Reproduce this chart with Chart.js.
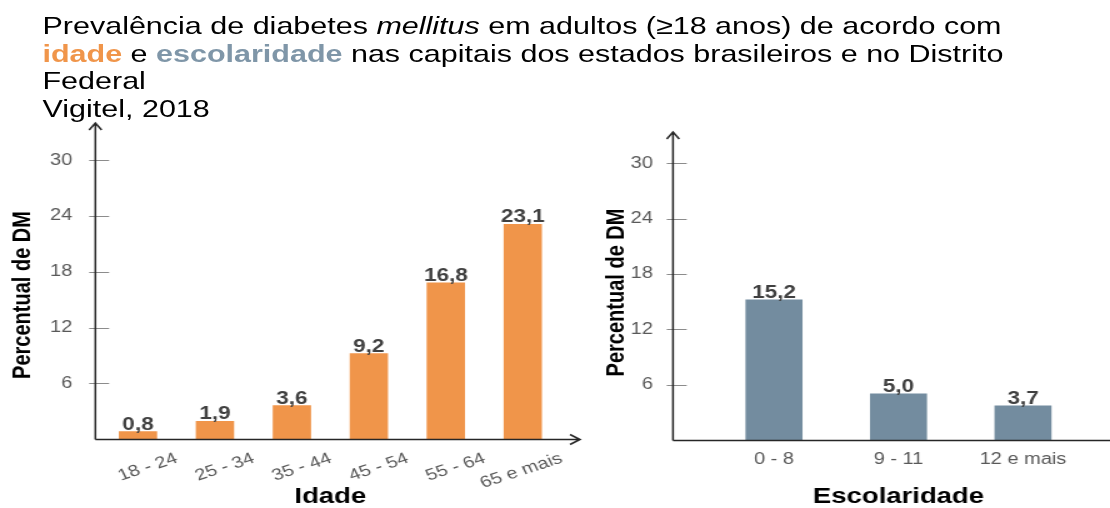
<!DOCTYPE html>
<html lang="pt-BR">
<head>
<meta charset="utf-8">
<title>Prevalência de diabetes mellitus - Vigitel 2018</title>
<script src="https://cdn.jsdelivr.net/npm/chart.js@4/dist/chart.umd.min.js"></script>
<style>
    html, body { margin: 0; padding: 0; background: #fff; overflow: hidden; }
    /* the reference is stretched horizontally, so the whole stage is drawn narrow and widened */
    #stage {
        position: absolute; left: 0; top: 0;
        width: 888px; height: 508px;
        transform: scaleX(1.25); transform-origin: 0 0;
    }
    #title {
        position: absolute; left: 34px; top: 12px;
        font-family: "Liberation Sans", Arial, sans-serif;
        font-size: 24.4px; line-height: 27.7px; color: #000;
        white-space: nowrap;
    }
    #title .age { color: #f0954a; font-weight: bold; }
    #title .edu { color: #7f96a8; font-weight: bold; }
    canvas { position: absolute; top: 110px; }
    #ageChart { left: 0; }
    #eduChart { left: 470px; }
</style>
</head>
<body>
<div id="stage">
    <div id="title">
        Prevalência de diabetes <i>mellitus</i> em adultos (≥18 anos) de acordo com<br>
        <span class="age">idade</span> e <span class="edu">escolaridade</span> nas capitais dos estados brasileiros e no Distrito<br>
        Federal<br>
        Vigitel, 2018
    </div>
    <canvas id="ageChart" width="470" height="398"></canvas>
    <canvas id="eduChart" width="418" height="398"></canvas>
</div>
<script>
const ageLabels = ["18 - 24", "25 - 34", "35 - 44", "45 - 54", "55 - 64", "65 e mais"];
const ageValues = [0.8, 1.9, 3.6, 9.2, 16.8, 23.1];
const eduLabels = ["0 - 8", "9 - 11", "12 e mais"];
const eduValues = [15.2, 5.0, 3.7];
const yTicks = [6, 12, 18, 24, 30];

const FONT = "'Liberation Sans', Arial, sans-serif";
Chart.defaults.font.family = FONT;
Chart.defaults.animation = false;

const ORANGE = "#f0954a";
const BLUEGRAY = "#738c9f";

// y axis line (a bit left of the plot), crossing tick marks and arrow heads
const axesPlugin = {
    id: "axesPlugin",
    afterDatasetsDraw(chart, args, o) {
        const { ctx, chartArea: a, scales: { y } } = chart;
        const ax = a.left - o.gap;
        const base = Math.round(y.getPixelForValue(0)) + 0.5;
        ctx.save();
        ctx.strokeStyle = "#8c8c8c";
        ctx.lineWidth = 1;
        ctx.beginPath();
        yTicks.forEach(v => {
            const py = Math.round(y.getPixelForValue(v)) + 0.5;
            ctx.moveTo(ax - 5, py);
            ctx.lineTo(ax + 11, py);
        });
        ctx.stroke();

        ctx.strokeStyle = "#262626";
        ctx.lineWidth = 1.5;
        ctx.beginPath();
        ctx.moveTo(ax, base);
        ctx.lineTo(ax, o.top);
        ctx.moveTo(ax - 5, o.top + 7);
        ctx.lineTo(ax, o.top);
        ctx.lineTo(ax + 5, o.top + 7);
        ctx.moveTo(ax, base);
        ctx.lineTo(o.right, base);
        if (o.arrowX) {
            ctx.moveTo(o.right - 8, base - 5);
            ctx.lineTo(o.right, base);
            ctx.lineTo(o.right - 8, base + 5);
        }
        ctx.stroke();
        ctx.restore();
    }
};

// numbers above the bars, with decimal comma
const valueLabels = {
    id: "valueLabels",
    afterDatasetsDraw(chart) {
        const { ctx } = chart;
        const values = chart.data.datasets[0].data;
        ctx.save();
        ctx.font = "bold 18px " + FONT;
        ctx.fillStyle = "#404040";
        ctx.textAlign = "center";
        ctx.textBaseline = "alphabetic";
        chart.getDatasetMeta(0).data.forEach((bar, i) => {
            ctx.fillText(values[i].toFixed(1).replace(".", ","), bar.x, bar.y - 2);
        });
        ctx.restore();
    }
};

function yScale(max, width, padding, titlePad) {
    return {
        min: 0,
        max: max,
        grid: { display: false, drawTicks: false },
        border: { display: false },
        ticks: {
            stepSize: 6,
            includeBounds: false,
            padding: padding,
            color: "#595959",
            font: { size: 16 },
            callback: v => (v === 0 ? "" : v)
        },
        title: {
            display: true,
            text: "Percentual de DM",
            color: "#000",
            font: { size: 20, weight: "bold", lineHeight: 1 },
            padding: { top: titlePad, bottom: 0 }
        },
        afterFit: s => { s.width = width; s.paddingTop = 0; s.paddingBottom = 0; }
    };
}

function xScale(title, height, ticks) {
    return {
        grid: { display: false, drawTicks: false },
        border: { display: false },
        ticks: Object.assign({ color: "#595959", font: { size: 16 }, autoSkip: false }, ticks),
        title: {
            display: true,
            text: title,
            color: "#000",
            font: { size: 22, weight: "bold", lineHeight: 1 },
            padding: { top: 0, bottom: 0 }
        },
        afterFit: s => { s.height = height; s.paddingLeft = 0; s.paddingRight = 0; }
    };
}

new Chart(document.getElementById("ageChart"), {
    type: "bar",
    data: {
        labels: ageLabels,
        datasets: [{ data: ageValues, backgroundColor: ORANGE, barThickness: 30 }]
    },
    options: {
        responsive: false,
        devicePixelRatio: 1,
        layout: { padding: { top: 41, right: 21, left: 0, bottom: 0 } },
        plugins: {
            legend: { display: false },
            tooltip: { enabled: false },
            axesPlugin: { gap: 3.3, top: 13, right: 464, arrowX: true }
        },
        scales: {
            x: xScale("Idade", 69, {
                minRotation: 22,
                maxRotation: 22,
                padding: 10,
                labelOffset: 31
            }),
            y: yScale(31, 79.6, 21.8, 8.6)
        }
    },
    plugins: [axesPlugin, valueLabels]
});

new Chart(document.getElementById("eduChart"), {
    type: "bar",
    data: {
        labels: eduLabels,
        datasets: [{ data: eduValues, backgroundColor: BLUEGRAY, barThickness: 45 }]
    },
    options: {
        responsive: false,
        devicePixelRatio: 1,
        layout: { padding: { top: 35, right: 19.8, left: 0, bottom: 0 } },
        plugins: {
            legend: { display: false },
            tooltip: { enabled: false },
            axesPlugin: { gap: 31, top: 22, right: 418, arrowX: false }
        },
        scales: {
            x: xScale("Escolaridade", 68, { minRotation: 0, maxRotation: 0, padding: 10 }),
            y: yScale(32, 99.4, 47, 13.6)
        }
    },
    plugins: [axesPlugin, valueLabels]
});
</script>
</body>
</html>
